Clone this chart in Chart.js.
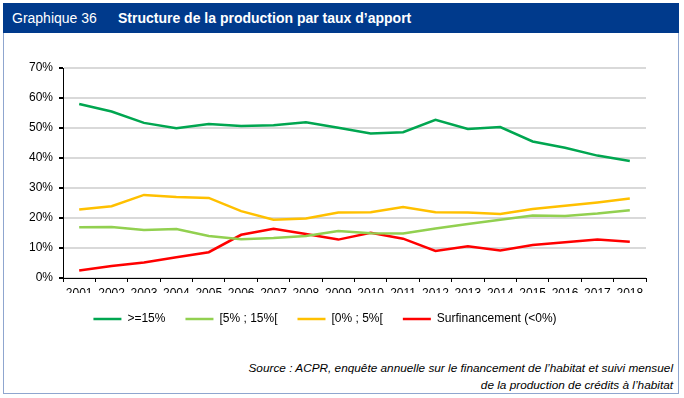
<!DOCTYPE html>
<html>
<head>
<meta charset="utf-8">
<script src="https://cdn.jsdelivr.net/npm/chart.js@4.4.1/dist/chart.umd.min.js"></script>
<style>
  html, body { margin: 0; padding: 0; background: #fff; }
  body { width: 684px; height: 398px; position: relative; overflow: hidden; font-family: "Liberation Sans", Arial, sans-serif; }
  #frame { position: absolute; left: 3px; top: 3px; width: 674px; height: 389px; border: 1px solid #8FA6CF; }
  #header { position: absolute; left: 3px; top: 3px; width: 676px; height: 30px; background: #003A8C; color: #fff; font-size: 14px; line-height: 30px; }
  #header .num { position: absolute; left: 9px; }
  #header .title { position: absolute; left: 115px; font-weight: bold; }
  #wrap { position: absolute; left: 4px; top: 36px; width: 674px; height: 300px; }
  #source { position: absolute; right: 11px; top: 360px; text-align: right; font-size: 11.8px; font-style: italic; line-height: 17px; color: #000; }
</style>
</head>
<body>
<div id="frame"></div>
<div id="header"><span class="num">Graphique 36</span><span class="title">Structure de la production par taux d’apport</span></div>
<div id="wrap"><canvas id="c" width="674" height="300"></canvas></div>
<div id="source">Source : ACPR, enquête annuelle sur le financement de l’habitat et suivi mensuel<br>de la production de crédits à l’habitat</div>
<script>
const years = ['2001','2002','2003','2004','2005','2006','2007','2008','2009','2010','2011','2012','2013','2014','2015','2016','2017','2018'];
const sup15 = [58.0,55.5,51.7,49.9,51.3,50.7,50.9,51.9,50.1,48.2,48.6,52.7,49.7,50.3,45.5,43.4,40.8,39.0];
const from5to15 = [16.9,17.0,16.0,16.3,14.0,12.9,13.3,14.0,15.7,14.9,14.8,16.5,18.0,19.4,20.8,20.7,21.5,22.6];
const from0to5 = [22.8,23.9,27.7,27.0,26.7,22.3,19.4,19.8,21.8,21.9,23.7,21.9,21.8,21.3,23.0,24.1,25.2,26.5];
const surfinancement = [2.5,4.0,5.2,6.9,8.6,14.4,16.4,14.7,12.8,15.1,13.1,9.0,10.6,9.2,11.0,11.9,12.8,12.1];

const font = { family: '"Liberation Sans", Arial, sans-serif', size: 12 };

function serie(label, data, color) {
    return {
        label: label,
        data: data,
        borderColor: color,
        backgroundColor: color,
        borderWidth: 2.5,
        pointRadius: 0,
        tension: 0,
    };
}

new Chart(document.getElementById('c').getContext('2d'), {
    type: 'line',
    data: {
        labels: years,
        datasets: [
            serie('>=15%', sup15, '#00A650'),
            serie('[5% ; 15%[', from5to15, '#92D050'),
            serie('[0% ; 5%[', from0to5, '#FFC000'),
            serie('Surfinancement (<0%)', surfinancement, '#FF0000'),
        ],
    },
    options: {
        responsive: false,
        animation: false,
        layout: { padding: { top: 32, right: 32, left: 0, bottom: 1 } },
        plugins: {
            legend: {
                display: true,
                position: 'bottom',
                labels: {
                    usePointStyle: true,
                    pointStyle: 'line',
                    pointStyleWidth: 28,
                    padding: 20,
                    color: '#000',
                    font: font,
                },
            },
            tooltip: { enabled: false },
        },
        scales: {
            y: {
                min: 0,
                max: 70,
                afterFit: (scale) => { scale.width = 59; },
                ticks: {
                    stepSize: 10,
                    color: '#000',
                    font: font,
                    padding: 6,
                    callback: (v) => v + '%',
                },
                grid: {
                    color: '#D9D9D9',
                    lineWidth: 2,
                    tickColor: '#000',
                    tickLength: 4,
                },
                border: { display: true, color: '#000', width: 1 },
            },
            x: {
                offset: true,
                afterFit: (scale) => { scale.height = 15; },
                ticks: {
                    color: '#000',
                    font: font,
                    padding: 4,
                    maxRotation: 0,
                    autoSkip: false,
                },
                grid: {
                    offset: true,
                    drawOnChartArea: false,
                    tickColor: '#000',
                    tickLength: 4,
                },
                border: { display: true, color: '#000', width: 1 },
            },
        },
    },
});
</script>
</body>
</html>
